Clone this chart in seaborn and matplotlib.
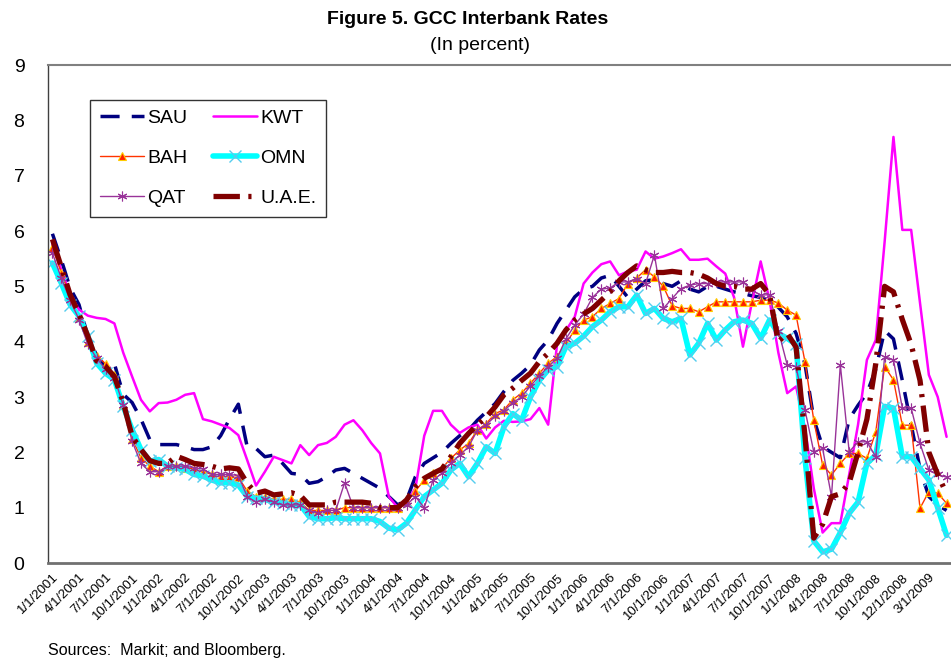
import matplotlib
matplotlib.use('Agg')
import matplotlib.pyplot as plt
import seaborn as sns
import numpy as np
import pandas as pd

# category labels (Excel category axis, one entry per observation)
dates = [f"{d.month}/1/{d.year}" for d in pd.date_range('2001-01-01', '2008-10-01', freq='MS')]
dates += ['10/15/2008', '11/1/2008', '12/1/2008', '1/1/2009', '2/1/2009',
          '3/1/2009', '4/1/2009', '5/1/2009']

sau = [5.95, 5.48, 4.97, 4.67, 4.10, 3.75, 3.55, 3.60, 3.05, 2.90, 2.60, 2.23, 2.14, 2.14, 2.14, 2.10, 2.05,
       2.05, 2.10, 2.30, 2.60, 2.87, 2.10, 2.07, 1.92, 1.95, 1.80, 1.62, 1.60, 1.44, 1.47, 1.56, 1.68, 1.71,
       1.62, 1.53, 1.44, 1.35, 1.20, 1.05, 1.14, 1.56, 1.80, 1.90, 2.00, 2.16, 2.30, 2.40, 2.58, 2.73, 2.88,
       3.10, 3.30, 3.43, 3.58, 3.85, 4.03, 4.33, 4.57, 4.81, 4.95, 5.00, 5.15, 5.20, 5.00, 4.80, 4.95, 5.10,
       5.12, 5.05, 5.00, 5.10, 4.95, 4.90, 5.00, 5.00, 4.95, 4.90, 4.87, 4.83, 4.80, 4.75, 4.62, 4.45, 4.15,
       3.60, 2.60, 2.10, 2.00, 1.90, 2.60, 2.85, 3.07, 3.50, 4.20, 4.05, 3.30, 2.50, 1.70, 1.20, 1.05, 0.95]
kwt = [5.75, 5.30, 4.85, 4.58, 4.47, 4.43, 4.41, 4.33, 3.80, 3.37, 2.95, 2.74, 2.89, 2.90, 2.95, 3.04, 3.07,
       2.60, 2.56, 2.50, 2.44, 2.31, 1.86, 1.40, 1.65, 1.92, 1.86, 1.80, 2.13, 1.95, 2.13, 2.17, 2.28, 2.50,
       2.58, 2.40, 2.17, 1.98, 1.20, 1.00, 1.10, 1.35, 2.30, 2.75, 2.75, 2.50, 2.35, 2.45, 2.50, 2.25, 2.45,
       2.57, 2.55, 2.56, 2.60, 2.80, 2.50, 3.95, 4.20, 4.45, 5.05, 5.25, 5.40, 5.45, 5.20, 5.27, 5.30, 5.63,
       5.50, 5.54, 5.60, 5.67, 5.48, 5.48, 5.50, 5.36, 5.23, 4.80, 3.91, 4.70, 5.45, 4.75, 3.80, 3.07, 3.19,
       2.45, 1.35, 0.55, 0.72, 0.72, 1.60, 2.50, 3.67, 4.03, 5.80, 7.70, 6.02, 6.02, 4.70, 3.40, 3.00, 2.28]
bah = [5.70, 5.25, 4.80, 4.45, 4.00, 3.75, 3.60, 3.40, 2.85, 2.25, 1.90, 1.75, 1.65, 1.75, 1.75, 1.72, 1.70,
       1.65, 1.60, 1.58, 1.55, 1.55, 1.30, 1.20, 1.20, 1.15, 1.15, 1.15, 1.10, 0.95, 0.95, 0.95, 0.95, 1.00,
       1.00, 1.00, 1.00, 1.00, 1.00, 1.00, 1.10, 1.30, 1.50, 1.62, 1.71, 1.89, 2.04, 2.16, 2.40, 2.52, 2.70,
       2.77, 2.95, 3.07, 3.25, 3.43, 3.61, 3.73, 3.97, 4.21, 4.39, 4.45, 4.60, 4.69, 4.78, 5.05, 5.15, 5.30,
       5.17, 5.00, 4.65, 4.60, 4.60, 4.54, 4.63, 4.72, 4.72, 4.72, 4.72, 4.72, 4.75, 4.75, 4.70, 4.57, 4.48,
       3.64, 2.58, 1.77, 1.59, 1.80, 1.98, 1.98, 1.89, 2.37, 3.55, 3.31, 2.49, 2.49, 0.99, 1.29, 1.26, 1.08]
omn = [5.42, 5.06, 4.67, 4.46, 4.10, 3.61, 3.43, 3.31, 2.83, 2.41, 2.05, 1.84, 1.87, 1.75, 1.72, 1.69, 1.60,
       1.57, 1.50, 1.45, 1.45, 1.41, 1.20, 1.17, 1.15, 1.10, 1.08, 1.05, 1.05, 0.84, 0.80, 0.80, 0.82, 0.80,
       0.80, 0.80, 0.80, 0.75, 0.63, 0.60, 0.72, 0.96, 1.20, 1.32, 1.44, 1.68, 1.80, 1.56, 1.80, 2.10, 1.98,
       2.46, 2.70, 2.58, 3.00, 3.30, 3.49, 3.55, 3.91, 3.97, 4.10, 4.27, 4.39, 4.54, 4.63, 4.63, 4.84, 4.51,
       4.60, 4.42, 4.36, 4.42, 3.76, 3.97, 4.33, 4.03, 4.21, 4.36, 4.39, 4.33, 4.06, 4.39, 4.15, 4.06, 3.95,
       1.90, 0.40, 0.20, 0.25, 0.55, 0.90, 1.10, 1.80, 1.95, 2.83, 2.80, 1.92, 1.92, 1.71, 1.50, 1.00, 0.50]
qat = [5.60, 5.15, 4.75, 4.40, 3.95, 3.70, 3.50, 3.35, 2.85, 2.20, 1.80, 1.65, 1.65, 1.75, 1.75, 1.75, 1.72,
       1.70, 1.60, 1.60, 1.60, 1.58, 1.20, 1.10, 1.15, 1.10, 1.05, 1.05, 1.05, 0.95, 0.90, 0.95, 0.95, 1.45,
       1.00, 1.00, 1.00, 1.00, 1.00, 1.00, 1.05, 1.20, 1.00, 1.50, 1.62, 1.80, 1.95, 2.10, 2.40, 2.50, 2.65,
       2.75, 2.90, 3.00, 3.20, 3.38, 3.55, 3.70, 4.05, 4.30, 4.50, 4.80, 4.95, 4.97, 5.08, 5.08, 5.14, 5.05,
       5.57, 4.60, 4.78, 4.96, 5.02, 5.05, 5.05, 5.08, 5.08, 5.08, 5.08, 4.93, 4.84, 4.85, 4.20, 3.58, 3.55,
       2.77, 2.01, 2.07, 1.20, 3.58, 2.01, 2.19, 2.19, 1.92, 3.73, 3.67, 2.80, 2.80, 2.16, 1.68, 1.60, 1.55]
uae = [5.85, 5.35, 4.85, 4.50, 4.10, 3.65, 3.55, 3.37, 2.90, 2.29, 2.05, 1.85, 1.80, 1.80, 1.93, 1.87, 1.80,
       1.78, 1.75, 1.70, 1.72, 1.70, 1.44, 1.26, 1.30, 1.23, 1.25, 1.27, 1.22, 1.05, 1.05, 1.05, 1.10, 1.10,
       1.10, 1.10, 1.08, 1.00, 1.00, 1.00, 1.14, 1.38, 1.53, 1.62, 1.70, 1.92, 2.16, 2.34, 2.50, 2.64, 2.82,
       3.04, 3.16, 3.30, 3.43, 3.64, 3.79, 3.97, 4.21, 4.39, 4.50, 4.60, 4.75, 4.90, 5.10, 5.25, 5.37, 5.30,
       5.25, 5.25, 5.27, 5.25, 5.25, 5.22, 5.15, 5.05, 5.00, 5.00, 4.95, 4.95, 5.05, 4.85, 4.00, 4.15, 3.90,
       2.30, 0.45, 0.70, 1.20, 1.25, 1.45, 2.00, 2.60, 3.60, 5.00, 4.90, 4.40, 3.95, 3.30, 2.00, 1.60, 1.25]

sns.set_style('white')
plt.rcParams['font.family'] = ['Liberation Sans', 'DejaVu Sans']
plt.rcParams['text.color'] = 'black'
plt.rcParams['xtick.color'] = 'black'
plt.rcParams['ytick.color'] = 'black'

fig = plt.figure(figsize=(9.51, 6.58), dpi=100)
ax = fig.add_axes([48 / 951, 1 - 563 / 658, 1 - 48 / 951, (563 - 65) / 658])

x = np.arange(len(dates))

sns.lineplot(x=x, y=sau, ax=ax, color='#000080', linewidth=2.5,
             linestyle=(0, (5.5, 3.5)), label='SAU')
sns.lineplot(x=x, y=kwt, ax=ax, color='#FF00FF', linewidth=1.8, label='KWT')
sns.lineplot(x=x, y=bah, ax=ax, color='#FF3300', linewidth=1.0, marker='^',
             markersize=6, markerfacecolor='#FF2000', markeredgecolor='#FFCC00',
             markeredgewidth=0.8, label='BAH')
sns.lineplot(x=x, y=omn, ax=ax, color='#00FFFF', linewidth=4.0, marker='x',
             markersize=9, markeredgecolor='#55CCEE', markeredgewidth=1.0, label='OMN')
sns.lineplot(x=x, y=qat, ax=ax, color='#993399', linewidth=1.0, marker=(6, 2, 0),
             markersize=7, markeredgecolor='#993399', markeredgewidth=0.8, label='QAT')
sns.lineplot(x=x, y=uae, ax=ax, color='#800000', linewidth=3.8,
             linestyle=(0, (5.0, 1.6, 0.6, 1.6)), label='U.A.E.')

ax.set_xlim(-0.5, 101.05)
ax.set_ylim(0, 9)
ax.set_yticks(range(10))
ax.set_yticklabels([str(v) for v in range(10)], fontsize=14)
ax.set_xticks(range(0, 100, 3))
ax.set_xticklabels([dates[i] for i in range(0, 100, 3)], rotation=45, ha='right',
                   rotation_mode='anchor', fontsize=9.5)
ax.set_xticks(np.arange(-0.5, 101.6, 1), minor=True)
ax.tick_params(axis='x', which='major', length=0, pad=6)
ax.tick_params(axis='x', which='minor', length=5, color='#606060', direction='out')
ax.tick_params(axis='y', length=5, color='#404040', direction='out', pad=12)
ax.set_xlabel('')
ax.set_ylabel('')

ax.spines['right'].set_visible(False)
ax.spines['top'].set_color('#808080')
ax.spines['top'].set_linewidth(1.5)
ax.spines['left'].set_color('#404040')
ax.spines['left'].set_linewidth(1.0)
ax.spines['bottom'].set_color('#707070')
ax.spines['bottom'].set_linewidth(2.0)

handles, labels = ax.get_legend_handles_labels()
order = [0, 2, 4, 1, 3, 5]
leg = ax.legend([handles[i] for i in order], [labels[i] for i in order], ncol=2,
                loc='upper left', bbox_to_anchor=(0.0465, 0.93), borderaxespad=0,
                fontsize=14, frameon=True, fancybox=False, edgecolor='black',
                handlelength=2.3, labelspacing=1.15, columnspacing=1.3,
                borderpad=0.5, handletextpad=0.15)
leg.get_frame().set_linewidth(1.0)

fig.text(468 / 951, 1 - 20 / 658, 'Figure 5. GCC Interbank Rates', ha='center', va='center',
         fontsize=14, fontweight='bold', family=['Liberation Sans Narrow', 'Liberation Sans'])
fig.text(480 / 951, 1 - 46 / 658, '(In percent)', ha='center', va='center', fontsize=14,
         family=['Liberation Sans Narrow', 'Liberation Sans'])
fig.text(48 / 951, 1 - 650 / 658, 'Sources:  Markit; and Bloomberg.', ha='left', va='center',
         fontsize=11.5)

fig.savefig('out.png', dpi=100)
